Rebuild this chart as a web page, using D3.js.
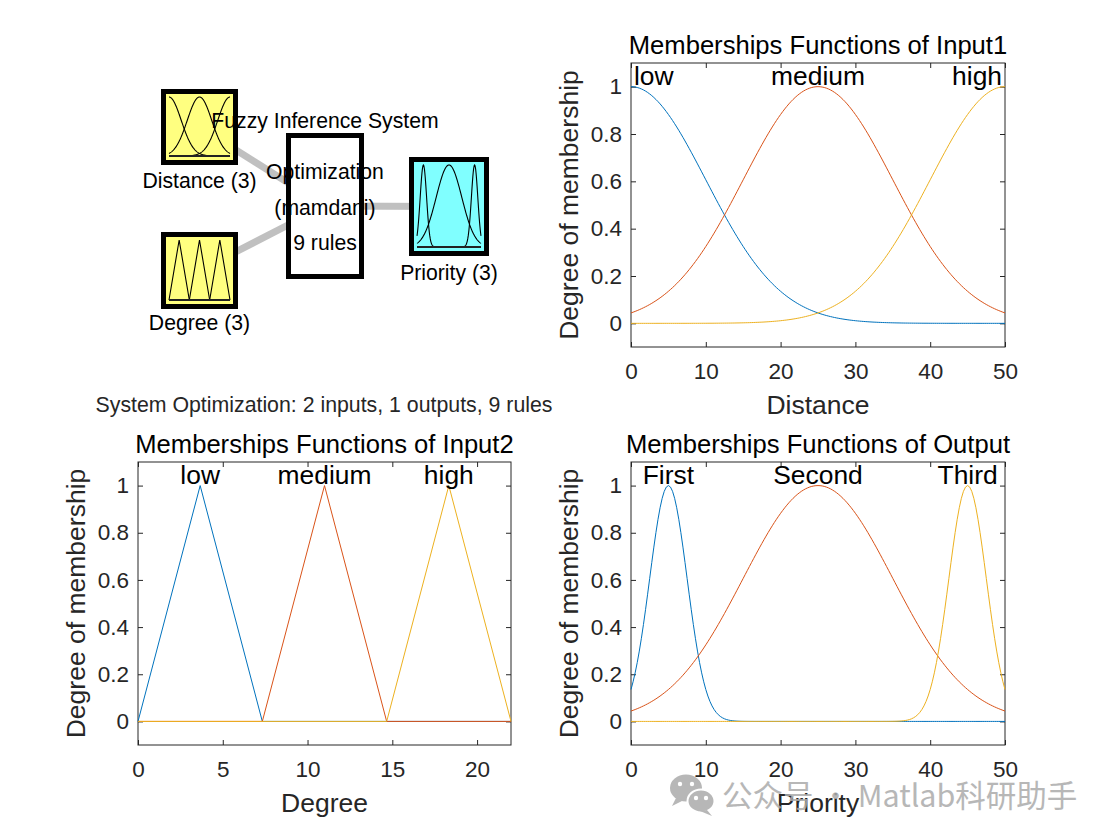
<!DOCTYPE html>
<html>
<head>
<meta charset="utf-8">
<script src="https://cdn.jsdelivr.net/npm/d3@7"></script>
<style>
  body { margin: 0; background: #fff; }
  svg { display: block; font-family: 'Liberation Sans', Arial, Helvetica, sans-serif; }
</style>
</head>
<body>
<div id="chart"></div>
<script>
// FIS summary
const fisName = 'Optimization';
const fisType = 'mamdani';
const ruleCount = 9;
const inputLabels = ['Distance (3)', 'Degree (3)'];
const outputLabels = ['Priority (3)'];

// Input1 (Distance): gaussmf, sigma and centre of each mf
const input1Names = ['low', 'medium', 'high'];
const input1Sigma = [10, 10, 10];
const input1Center = [0, 25, 50];
const input1Range = [0, 50];
const input1Ticks = [0, 10, 20, 30, 40, 50];

// Input2 (Degree): trimf [a b c]
const input2Names = ['low', 'medium', 'high'];
const input2Params = [[0, 3.667, 7.333], [7.333, 11, 14.667], [14.667, 18.333, 22]];
const input2Range = [0, 22];
const input2Ticks = [0, 5, 10, 15, 20];

// Output (Priority): gaussmf
const outputNames = ['First', 'Second', 'Third'];
const outputSigma = [2.5, 10, 2.5];
const outputCenter = [5, 25, 45];
const outputRange = [0, 50];
const outputTicks = [0, 10, 20, 30, 40, 50];

const yTicks = [0, 0.2, 0.4, 0.6, 0.8, 1];
const mfColors = ['#0072BD', '#D95319', '#EDB120'];

const W = 1110, H = 836;
const svg = d3.select('#chart').append('svg').attr('width', W).attr('height', H);
svg.append('rect').attr('width', W).attr('height', H).attr('fill', '#fff');

// membership curves, evaluated like plotmf does (181 points over the range)
function gaussCurves(sig, cen, range) {
    return sig.map((s, i) => d3.range(181).map(k => {
        const x = range[0] + k * (range[1] - range[0]) / 180;
        return [x, Math.exp(-((x - cen[i]) ** 2) / (2 * s * s))];
    }));
}
function triCurves(params, range) {
    return params.map(p => [[range[0], 0], [p[0], 0], [p[1], 1], [p[2], 0], [range[1], 0]]);
}

const input1Curves = gaussCurves(input1Sigma, input1Center, input1Range);
const input2Curves = triCurves(input2Params, input2Range);
const outputCurves = gaussCurves(outputSigma, outputCenter, outputRange);

function drawPanel(box, range, xTicks, curves, names, title, xLabel) {
    const x = d3.scaleLinear().domain(range).range([box.left, box.right]);
    const y = d3.scaleLinear().domain([-0.1, 1.1]).range([box.bottom, box.top]);
    const g = svg.append('g');
    const ink = '#262626';

    // frame + ticks
    g.append('rect').attr('x', box.left).attr('y', box.top)
        .attr('width', box.right - box.left).attr('height', box.bottom - box.top)
        .attr('fill', '#fff').attr('stroke', ink).attr('stroke-width', 1);

    const xb = g.append('g').attr('transform', `translate(0,${box.bottom})`)
        .call(d3.axisBottom(x).tickValues(xTicks).tickSize(-5).tickPadding(16).tickFormat(d3.format('d')));
    const xt = g.append('g').attr('transform', `translate(0,${box.top})`)
        .call(d3.axisTop(x).tickValues(xTicks).tickSize(-5).tickFormat(''));
    const yl = g.append('g').attr('transform', `translate(${box.left},0)`)
        .call(d3.axisLeft(y).tickValues(yTicks).tickSize(-5).tickPadding(9).tickFormat(d => d === 0 || d === 1 ? d3.format('d')(d) : d3.format('.1f')(d)));
    const yr = g.append('g').attr('transform', `translate(${box.right},0)`)
        .call(d3.axisRight(y).tickValues(yTicks).tickSize(-5).tickFormat(''));
    [xb, xt, yl, yr].forEach(a => {
        a.select('.domain').remove();
        a.selectAll('line').attr('stroke', ink);
        a.selectAll('text').attr('fill', ink).style('font-size', '22.5px').style('font-family', 'inherit');
    });
    xb.selectAll('text').attr('dy', '0.71em');

    // curves
    const line = d3.line().x(d => x(d[0])).y(d => y(d[1]));
    g.selectAll('path.mf').data(curves).enter().append('path').attr('class', 'mf')
        .attr('d', line).attr('fill', 'none')
        .attr('stroke', (d, i) => mfColors[i]).attr('stroke-width', 1);

    // mf names at each peak, kept inside the frame
    curves.forEach((c, i) => {
        const peak = c.reduce((a, b) => b[1] > a[1] ? b : a);
        const t = g.append('text').text(names[i]).attr('y', y(1) - 2)
            .attr('text-anchor', 'middle').style('font-size', '26.4px').attr('fill', '#000');
        const w = t.node().getComputedTextLength();
        let cx = x(peak[0]);
        cx = Math.max(box.left + 3 + w / 2, Math.min(box.right - 3 - w / 2, cx));
        t.attr('x', cx);
    });

    const mid = (box.left + box.right) / 2;
    g.append('text').attr('x', mid).attr('y', box.top - 9).attr('text-anchor', 'middle')
        .style('font-size', '25.6px').attr('fill', '#000').text(title);
    g.append('text').attr('x', mid).attr('y', box.bottom + 67).attr('text-anchor', 'middle')
        .style('font-size', '26.5px').attr('fill', ink).text(xLabel);
    g.append('text').attr('transform', `translate(${box.left - 53},${(box.top + box.bottom) / 2}) rotate(-90)`)
        .attr('text-anchor', 'middle').style('font-size', '26.5px').attr('fill', ink).text('Degree of membership');
}

drawPanel({left: 631, right: 1005, top: 63, bottom: 347}, input1Range, input1Ticks, input1Curves,
    input1Names, 'Memberships Functions of Input1', 'Distance');
drawPanel({left: 138, right: 511, top: 462, bottom: 745}, input2Range, input2Ticks, input2Curves,
    input2Names, 'Memberships Functions of Input2', 'Degree');
drawPanel({left: 631, right: 1005, top: 462, bottom: 745}, outputRange, outputTicks, outputCurves,
    outputNames, 'Memberships Functions of Output', 'Priority');

// ---- plotfis diagram ----
const fis = svg.append('g');
const boxIn1 = {x: 161, y: 89, w: 77, h: 76};
const boxIn2 = {x: 161, y: 232, w: 77, h: 77};
const boxSys = {x: 286, y: 133, w: 78, h: 146};
const boxOut = {x: 409, y: 157, w: 80, h: 99};
const ctr = b => [b.x + b.w / 2, b.y + b.h / 2];

[boxIn1, boxIn2, boxOut].forEach(b => {
    fis.append('line').attr('x1', ctr(b)[0]).attr('y1', ctr(b)[1])
        .attr('x2', ctr(boxSys)[0]).attr('y2', ctr(boxSys)[1])
        .attr('stroke', '#c0c0c0').attr('stroke-width', 7);
});

function fisBox(b, fill, curves, range) {
    fis.append('rect').attr('x', b.x + 2.5).attr('y', b.y + 2.5).attr('width', b.w - 5).attr('height', b.h - 5)
        .attr('fill', fill).attr('stroke', '#000').attr('stroke-width', 5);
    if (!curves) return;
    const x = d3.scaleLinear().domain(range).range([b.x + 8, b.x + b.w - 8]);
    const y = d3.scaleLinear().domain([0, 1]).range([b.y + b.h - 9, b.y + 8]);
    const line = d3.line().x(d => x(d[0])).y(d => y(d[1]));
    fis.append('g').selectAll('path').data(curves).enter().append('path')
        .attr('d', line).attr('fill', 'none').attr('stroke', '#000').attr('stroke-width', 1.1);
    fis.append('line').attr('x1', x(range[0])).attr('x2', x(range[1]))
        .attr('y1', y(0)).attr('y2', y(0)).attr('stroke', '#222').attr('stroke-width', 2);
}
fisBox(boxIn1, '#ffff80', input1Curves, input1Range);
fisBox(boxIn2, '#ffff80', input2Curves, input2Range);
fisBox(boxSys, '#fff', null, null);
fisBox(boxOut, '#80ffff', outputCurves, outputRange);

const fs = '21.2px';
function fisText(x, y, s, color) {
    fis.append('text').attr('x', x).attr('y', y).attr('text-anchor', 'middle')
        .style('font-size', fs).attr('fill', color || '#000').text(s);
}
fisText(ctr(boxIn1)[0], boxIn1.y + boxIn1.h + 23, inputLabels[0]);
fisText(ctr(boxIn2)[0], boxIn2.y + boxIn2.h + 21, inputLabels[1]);
fisText(ctr(boxOut)[0], boxOut.y + boxOut.h + 24, outputLabels[0]);
fisText(ctr(boxSys)[0], 128, 'Fuzzy Inference System');
fisText(ctr(boxSys)[0], 179, fisName);
fisText(ctr(boxSys)[0], 215, '(' + fisType + ')');
fisText(ctr(boxSys)[0], 250, ruleCount + ' rules');

svg.append('text').attr('x', 324).attr('y', 412).attr('text-anchor', 'middle')
    .style('font-size', '21.3px').attr('fill', '#262626')
    .text(`System ${fisName}: ${inputLabels.length} inputs, ${outputLabels.length} outputs, ${ruleCount} rules`);

// ---- watermark ----
const wm = svg.append('g').attr('opacity', 0.85);
wm.append('ellipse').attr('cx', 686).attr('cy', 788).attr('rx', 16).attr('ry', 13.5).attr('fill', '#ababab');
wm.append('path').attr('d', 'M676,798 L672,806 L684,800 Z').attr('fill', '#ababab');
wm.append('ellipse').attr('cx', 701).attr('cy', 801).attr('rx', 13.5).attr('ry', 11.5).attr('fill', '#ababab').attr('stroke', '#fff').attr('stroke-width', 2);
wm.append('path').attr('d', 'M707,810 L712,816 L700,811 Z').attr('fill', '#ababab');
[[680, 784], [692, 784], [696, 798], [706, 798]].forEach(p => {
    wm.append('circle').attr('cx', p[0]).attr('cy', p[1]).attr('r', 2.2).attr('fill', '#fff');
});
wm.append('text').attr('x', 722).attr('y', 807)
    .style('font-family', "'Noto Sans CJK SC', sans-serif").style('font-size', '30.5px')
    .attr('fill', '#ababab').text('公众号 · Matlab科研助手');
</script>
</body>
</html>
